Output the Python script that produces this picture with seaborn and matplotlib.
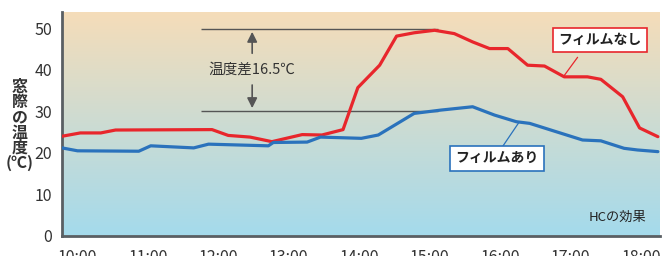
import numpy as np
import pandas as pd
import matplotlib
matplotlib.use("Agg")
import matplotlib.pyplot as plt
import seaborn as sns

# hours (decimal)
red_hours = [9.78, 10.04, 10.33, 10.54, 11.91, 12.14, 12.45, 12.76, 13.19, 13.47,
             13.77, 13.98, 14.29, 14.53, 14.78, 15.07, 15.35, 15.61, 15.85, 16.11,
             16.39, 16.63, 16.91, 17.24, 17.43, 17.74, 17.98, 18.24]
red_temp = [24.0, 24.8, 24.8, 25.5, 25.6, 24.2, 23.8, 22.7, 24.4, 24.3,
            25.6, 35.7, 41.1, 48.1, 48.9, 49.5, 48.7, 46.7, 45.1, 45.1,
            41.1, 40.9, 38.3, 38.3, 37.7, 33.5, 26.0, 23.9]

blue_hours = [9.78, 10.0, 10.87, 11.04, 11.65, 11.86, 12.71, 12.78, 13.26, 13.45,
              14.03, 14.27, 14.78, 15.16, 15.61, 15.92, 16.23, 16.42, 16.72, 17.17,
              17.43, 17.76, 17.95, 18.24]
blue_temp = [21.2, 20.5, 20.4, 21.7, 21.2, 22.1, 21.7, 22.5, 22.6, 23.8,
             23.5, 24.3, 29.5, 30.3, 31.1, 29.1, 27.5, 27.1, 25.5, 23.1,
             22.9, 21.1, 20.7, 20.3]

tick_hours = [10, 11, 12, 13, 14, 15, 16, 17, 18]
tick_labels = ["10:00", "11:00", "12:00", "13:00", "14:00", "15:00", "16:00", "17:00", "18:00"]
y_ticks = [0, 10, 20, 30, 40, 50]

RED = "#e8262c"
BLUE = "#2a72bc"
GRAY = "#555555"

sns.set_style("white")
plt.rcParams['font.family'] = ['Noto Sans CJK JP', 'DejaVu Sans']

fig = plt.figure(figsize=(6.62, 2.56), dpi=100)
ax = fig.add_axes([62 / 662, 20 / 256, 598 / 662, 224 / 256])

x0, x1 = 9.78, 18.27
y0, y1 = 0, 53.9
ax.set_xlim(x0, x1)
ax.set_ylim(y0, y1)

# background gradient: peach at top -> light blue at bottom
top = np.array([0xf5, 0xdd, 0xb9]) / 255
bot = np.array([0xa4, 0xda, 0xec]) / 255
t = np.linspace(0, 1, 256)[:, None]
grad = top * (1 - t) + bot * t
grad = np.repeat(grad[:, None, :], 2, axis=1)
ax.imshow(grad, extent=[x0, x1, y0, y1], aspect="auto", zorder=0)

red_df = pd.DataFrame({"hour": red_hours, "temp": red_temp})
blue_df = pd.DataFrame({"hour": blue_hours, "temp": blue_temp})
sns.lineplot(data=red_df, x="hour", y="temp", color=RED, lw=2.3, ax=ax, zorder=3)
sns.lineplot(data=blue_df, x="hour", y="temp", color=BLUE, lw=2.3, ax=ax, zorder=3)

# reference lines for the difference
ax.hlines([49.9, 30.0], 11.76, 15.12, color=GRAY, lw=1.0, zorder=2)
ax.annotate("", xy=(12.48, 49.8), xytext=(12.48, 43.3),
            arrowprops=dict(arrowstyle="-|>,head_length=0.6,head_width=0.3", color=GRAY, lw=1.2))
ax.annotate("", xy=(12.48, 30.1), xytext=(12.48, 37.0),
            arrowprops=dict(arrowstyle="-|>,head_length=0.6,head_width=0.3", color=GRAY, lw=1.2))
ax.text(12.48, 40.0, "温度差16.5℃", ha="center", va="center", fontsize=10.5, color="#333333")

# callout labels
ax.plot([17.10, 16.91], [43.0, 38.6], color=RED, lw=0.9, zorder=4)
ax.text(17.42, 47.2, "フィルムなし", ha="center", va="center", fontsize=10,
        fontweight="bold", color="#222222", zorder=5,
        bbox=dict(boxstyle="square,pad=0.38", fc="white", ec=RED, lw=1.2))
ax.plot([16.03, 16.27], [21.4, 27.4], color=BLUE, lw=0.9, zorder=4)
ax.text(15.96, 18.7, "フィルムあり", ha="center", va="center", fontsize=10,
        fontweight="bold", color="#222222", zorder=5,
        bbox=dict(boxstyle="square,pad=0.38", fc="white", ec=BLUE, lw=1.2))

ax.text(0.977, 0.085, "HCの効果", transform=ax.transAxes, ha="right", va="center",
        fontsize=9.5, color="#222222")

ax.set_xticks(tick_hours)
ax.set_xticklabels(tick_labels)
ax.set_yticks(y_ticks)
ax.tick_params(axis="both", length=0, labelsize=11.5, colors="#333333")
ax.tick_params(axis="x", pad=9)
ax.tick_params(axis="y", pad=7)
ax.set_xlabel("")
ax.set_ylabel("")

for side in ["top", "right"]:
    ax.spines[side].set_visible(False)
for side in ["left", "bottom"]:
    ax.spines[side].set_color("#5a5f63")
    ax.spines[side].set_linewidth(2.0)

fig.text(20 / 662, 1 - 125 / 256, "窓\n際\nの\n温\n度\n(℃)", ha="center", va="center",
         fontsize=11.5, fontweight="bold", color="#333333", linespacing=0.95)

fig.savefig("out.png", dpi=100)
